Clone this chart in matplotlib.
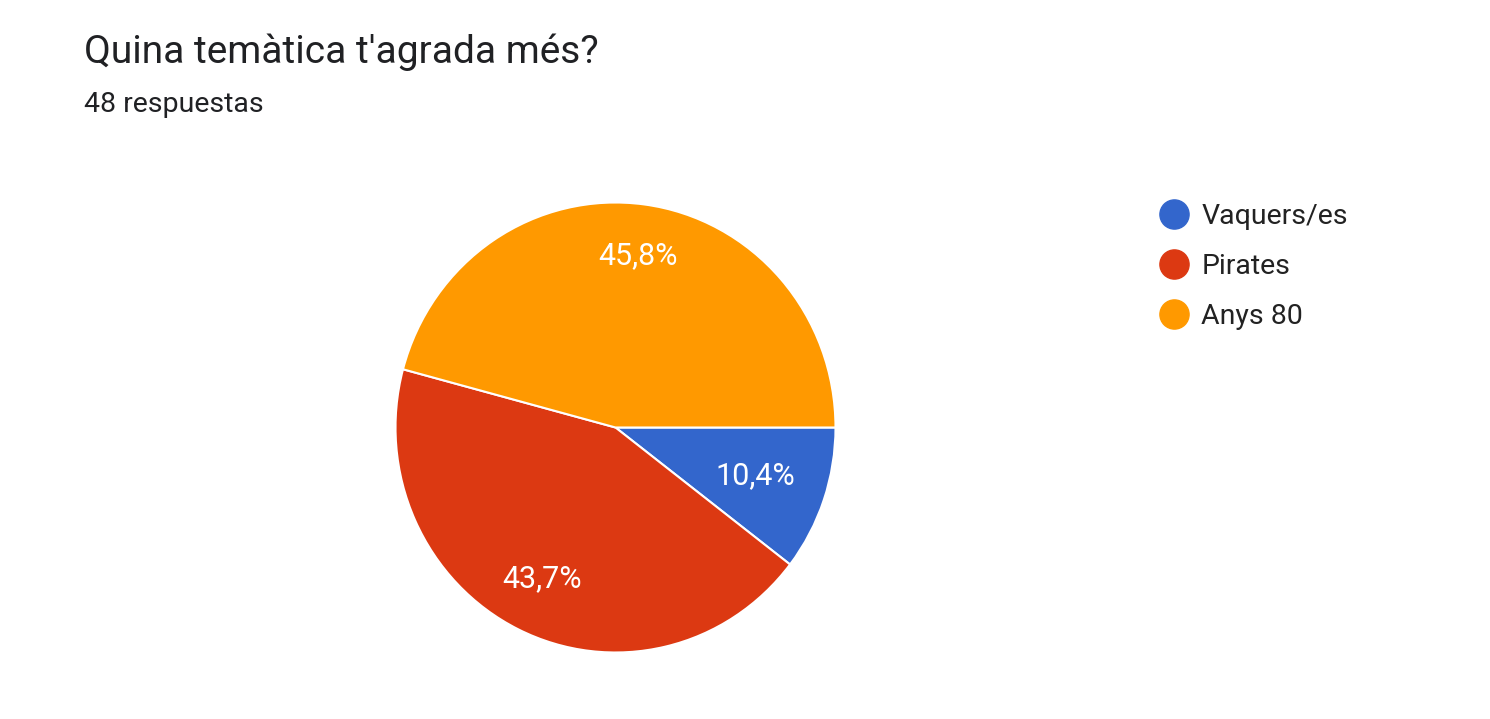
import matplotlib
matplotlib.use("Agg")
import matplotlib.pyplot as plt
import numpy as np
from matplotlib.lines import Line2D

plt.rcParams['font.family'] = ['Roboto', 'DejaVu Sans']

title = "Quina temàtica t'agrada més?"
subtitle = "48 respuestas"
categories = ["Vaquers/es", "Pirates", "Anys 80"]
counts = [5, 21, 22]
pct_labels = ["10,4%", "43,7%", "45,8%"]
colors = ["#3366CC", "#DC3912", "#FF9900"]

W, H = 1490, 719
fig = plt.figure(figsize=(W / 100, H / 100), dpi=100)
fig.patch.set_facecolor("white")

cx, cy, rx, ry = 615.5, 427.5, 220, 225
ax = fig.add_axes([(cx - rx) / W, (H - cy - ry) / H, 2 * rx / W, 2 * ry / H])
wedges, _ = ax.pie(counts, colors=colors, startangle=0, counterclock=False,
                   radius=1, wedgeprops=dict(edgecolor="white", linewidth=1.5))
ax.set_xlim(-1, 1)
ax.set_ylim(-1, 1)
ax.set_aspect("auto")
ax.axis("off")

label_dist = [0.67, 0.75, 0.77]
for w, lab, d in zip(wedges, pct_labels, label_dist):
    ang = np.deg2rad((w.theta1 + w.theta2) / 2)
    ax.text(d * np.cos(ang), d * np.sin(ang), lab, color="white",
            fontsize=22, ha="center", va="center")

fig.text(84 / W, 1 - 52 / H, title, fontsize=28, color="#202124",
         ha="left", va="center")
fig.text(84 / W, 1 - 105 / H, subtitle, fontsize=20.5, color="#202124",
         ha="left", va="center")

handles = [Line2D([0], [0], marker="o", linestyle="", markersize=21,
                  markerfacecolor=c, markeredgecolor=c) for c in colors]
leg = fig.legend(handles, categories, loc="upper left",
                 bbox_to_anchor=(1160 / W, 1 - 203 / H), frameon=False,
                 fontsize=20.5, handletextpad=0.45, labelspacing=0.8,
                 handlelength=1.0, borderaxespad=0, borderpad=0)
for t in leg.get_texts():
    t.set_color("#222222")

fig.savefig("out.png", dpi=100, facecolor="white")
